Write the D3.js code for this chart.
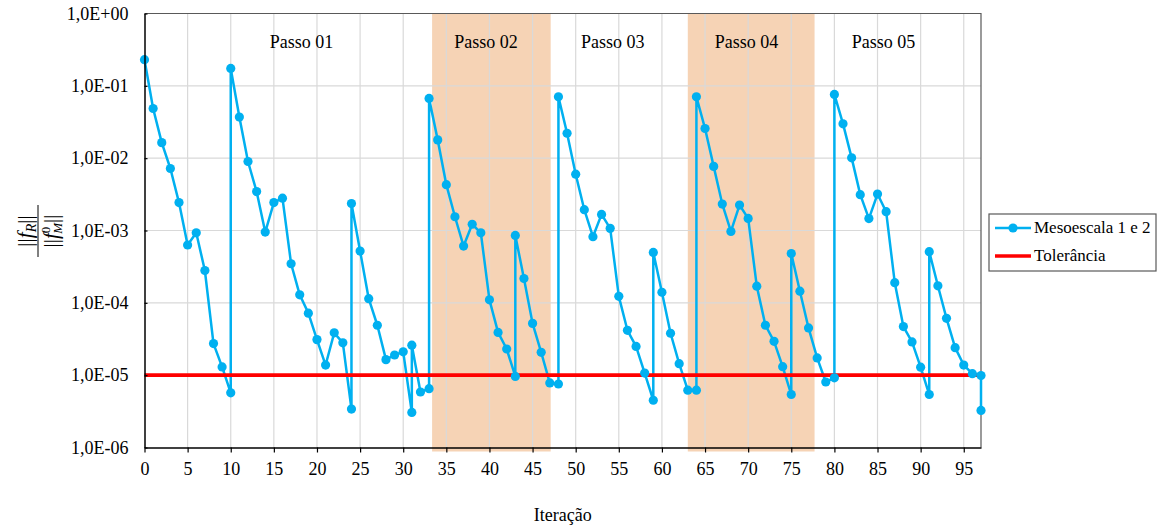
<!DOCTYPE html>
<html>
<head>
<meta charset="utf-8">
<script src="https://cdn.jsdelivr.net/npm/d3@7"></script>
<style>
  body { margin: 0; background: #fff; }
  svg { display: block; font-family: "Liberation Serif", "Times New Roman", serif; }
</style>
</head>
<body>
<div id="chart"></div>
<script>
// iteration number of each residual value (restarts repeat the same iteration)
const iteracao = [0,1,2,3,4,5,6,7,8,9,10,10,11,12,13,14,15,16,17,18,19,20,21,22,23,24,24,25,26,27,28,29,30,31,31,32,
  33,33,34,35,36,37,38,39,40,41,42,43,43,44,45,46,47,48,48,49,50,51,52,53,54,55,56,57,58,59,59,60,61,62,63,64,
  64,65,66,67,68,69,70,71,72,73,74,75,75,76,77,78,79,80,80,81,82,83,84,85,86,87,88,89,90,91,91,92,93,94,95,96,97,97];
const residuo = [0.23,0.0486,0.0164,0.0072,0.00243,6.3e-4,9.3e-4,2.8e-4,2.73e-5,1.3e-5,5.7e-6,0.174,0.037,0.009,0.00345,
  9.5e-4,0.00243,0.0028,3.47e-4,1.29e-4,7.2e-5,3.1e-5,1.38e-5,3.85e-5,2.8e-5,3.4e-6,0.00236,5.2e-4,1.14e-4,4.9e-5,
  1.64e-5,1.9e-5,2.1e-5,3.05e-6,2.6e-5,5.85e-6,
  6.5e-6,0.067,0.0179,0.0043,0.00155,6.1e-4,0.00122,9.3e-4,1.1e-4,3.9e-5,2.3e-5,9.6e-6,8.55e-4,2.17e-4,5.2e-5,2.07e-5,
  7.8e-6,7.55e-6,0.0704,0.0221,0.006,0.00194,8.2e-4,0.00167,0.00107,1.23e-4,4.17e-5,2.5e-5,1.07e-5,4.5e-6,4.97e-4,
  1.4e-4,3.8e-5,1.44e-5,6.2e-6,6.2e-6,
  0.0704,0.0257,0.0077,0.00232,9.7e-4,0.00225,0.00147,1.7e-4,4.9e-5,2.94e-5,1.31e-5,5.4e-6,4.8e-4,1.45e-4,4.5e-5,
  1.73e-5,8.05e-6,9.2e-6,0.076,0.0298,0.0101,0.00313,0.00146,0.00319,0.00182,1.9e-4,4.7e-5,2.88e-5,1.29e-5,5.4e-6,
  5.1e-4,1.72e-4,6.1e-5,2.4e-5,1.38e-5,1.05e-5,9.9e-6,3.25e-6];

const tolerancia = 1e-5;
const tolX = [0, 97];

const passoNomes = ['Passo 01', 'Passo 02', 'Passo 03', 'Passo 04', 'Passo 05'];
const passoX = [18.2, 39.6, 54.3, 69.8, 85.7];
const faixas = [[33.35, 47.1], [63.0, 77.7]];

const xTicks = d3.range(0, 96, 5);
const yTicks = [1e0, 1e-1, 1e-2, 1e-3, 1e-4, 1e-5, 1e-6];
const yTickLabels = ['1,0E+00', '1,0E-01', '1,0E-02', '1,0E-03', '1,0E-04', '1,0E-05', '1,0E-06'];

const legendItems = ['Mesoescala 1 e 2', 'Tolerância'];

const W = 1157, H = 526;
const m = { left: 144.5, right: 981, top: 13.5, bottom: 447.5 };
const blue = '#00B0F0', red = '#FF0000', gridColor = '#D9D9D9';

const svg = d3.select('#chart').append('svg').attr('width', W).attr('height', H);

const x = d3.scaleLinear().domain([0, 97]).range([m.left, m.right]);
const y = d3.scaleLog().domain([1e-6, 1]).range([m.bottom, m.top]);

// shaded steps
svg.append('g').selectAll('rect').data(faixas).enter().append('rect')
  .attr('x', d => x(d[0])).attr('width', d => x(d[1]) - x(d[0]))
  .attr('y', m.top).attr('height', m.bottom - m.top + 4)
  .attr('fill', '#F6D3B5');

// grid
const grid = svg.append('g').attr('stroke', gridColor).attr('stroke-width', 1.2);
grid.selectAll('.gx').data(xTicks.slice(1)).enter().append('line')
  .attr('x1', d => x(d)).attr('x2', d => x(d)).attr('y1', m.top).attr('y2', m.bottom);
grid.selectAll('.gy').data(yTicks.slice(1, -1)).enter().append('line')
  .attr('y1', d => y(d)).attr('y2', d => y(d)).attr('x1', m.left).attr('x2', m.right);

// plot border top / right
svg.append('path')
  .attr('d', `M${m.left},${m.top}H${m.right}V${m.bottom}`)
  .attr('fill', 'none').attr('stroke', '#595959').attr('stroke-width', 1.2);

// passo labels
svg.append('g').selectAll('text').data(passoNomes).enter().append('text')
  .attr('x', (_, i) => x(passoX[i])).attr('y', 48)
  .attr('text-anchor', 'middle').style('font-size', '18px').attr('fill', '#000')
  .text(d => d);

const pts = iteracao.map((it, i) => [it, residuo[i]]);

// series line
svg.append('path').datum(pts)
  .attr('d', d3.line().x(d => x(d[0])).y(d => y(d[1])))
  .attr('fill', 'none').attr('stroke', blue).attr('stroke-width', 2.5).attr('stroke-linejoin', 'round');

// tolerance
svg.append('line')
  .attr('x1', x(tolX[0])).attr('x2', x(tolX[1])).attr('y1', y(tolerancia)).attr('y2', y(tolerancia))
  .attr('stroke', red).attr('stroke-width', 3.8);

// markers
svg.append('g').selectAll('circle').data(pts).enter().append('circle')
  .attr('cx', d => x(d[0])).attr('cy', d => y(d[1])).attr('r', 4.6).attr('fill', blue);

// axes
const xAxis = svg.append('g').attr('transform', `translate(0,${m.bottom})`)
  .call(d3.axisBottom(x).tickValues(xTicks).tickSize(5).tickPadding(10).tickSizeOuter(0));
const yAxis = svg.append('g').attr('transform', `translate(${m.left},0)`)
  .call(d3.axisLeft(y).tickValues(yTicks).tickFormat((_, i) => yTickLabels[i]).tickSize(-3).tickPadding(16).tickSizeOuter(0));
[xAxis, yAxis].forEach(a => {
  a.select('.domain').attr('stroke', '#000').attr('stroke-width', 1.5);
  a.selectAll('.tick line').attr('stroke', '#000').attr('stroke-width', 1.2);
  a.selectAll('.tick text').style('font-size', '18px').style('font-family', '"Liberation Serif", serif').attr('fill', '#000');
});

// x title
svg.append('text').attr('x', (m.left + m.right) / 2).attr('y', 521)
  .attr('text-anchor', 'middle').style('font-size', '18px').text('Iteração');

// y title (fraction, rotated)
const yt = svg.append('g').attr('transform', 'translate(38,231) rotate(-90)').style('font-size', '21px');
const num = yt.append('text').attr('x', 0).attr('y', -6).attr('text-anchor', 'middle');
num.append('tspan').text('||');
num.append('tspan').style('font-style', 'italic').text('f');
num.append('tspan').style('font-style', 'italic').style('font-size', '14px').attr('dy', 4).text('R');
num.append('tspan').attr('dy', -4).text('||');
yt.append('line').attr('x1', -26).attr('x2', 26).attr('y1', 0).attr('y2', 0).attr('stroke', '#000').attr('stroke-width', 1);
const den = yt.append('text').attr('x', 0).attr('y', 20).attr('text-anchor', 'middle');
den.append('tspan').text('||');
den.append('tspan').style('font-style', 'italic').text('f');
den.append('tspan').style('font-size', '13px').attr('dy', -8).text('0');
den.append('tspan').style('font-style', 'italic').style('font-size', '13px').attr('dx', -7).attr('dy', 12).text('M');
den.append('tspan').attr('dy', -4).text('||');

// legend
const lg = svg.append('g').attr('transform', 'translate(989,214)');
lg.append('rect').attr('width', 167).attr('height', 57).attr('fill', '#fff')
  .attr('stroke', '#595959').attr('stroke-width', 1.2);
legendItems.forEach((name, i) => {
  const yy = 14 + i * 28;
  lg.append('line').attr('x1', 6).attr('x2', 42).attr('y1', yy).attr('y2', yy)
    .attr('stroke', i === 0 ? blue : red).attr('stroke-width', i === 0 ? 2.5 : 3.5);
  if (i === 0) lg.append('circle').attr('cx', 24).attr('cy', yy).attr('r', 4.6).attr('fill', blue);
  lg.append('text').attr('x', 45).attr('y', yy + 5).style('font-size', '17px').text(name);
});
</script>
</body>
</html>
